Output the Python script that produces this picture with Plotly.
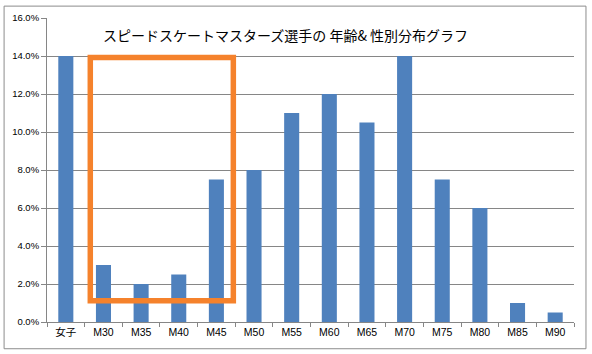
import plotly.graph_objects as go

categories = ["女子", "M30", "M35", "M40", "M45", "M50", "M55", "M60", "M65", "M70", "M75", "M80", "M85", "M90"]
share_pct = [14.0, 3.0, 2.0, 2.5, 7.5, 8.0, 11.0, 12.0, 10.5, 14.0, 7.5, 6.0, 1.0, 0.5]
y_ticks = [0, 2, 4, 6, 8, 10, 12, 14, 16]
title_text = "スピードスケートマスターズ選手の 年齢& 性別分布グラフ"

W, H = 592, 354
ml, mr, mt, mb = 46, 18, 15, 32
pw, ph = W - ml - mr, H - mt - mb

def px_x(p):
    return (p - ml) / pw

def px_y(p):
    return (H - mb - p) / ph

fig = go.Figure(go.Bar(x=categories, y=share_pct, marker=dict(color="#4F81BD", line=dict(width=0))))

fig.update_layout(
    width=W, height=H,
    margin=dict(l=ml, r=mr, t=mt, b=mb),
    paper_bgcolor="white", plot_bgcolor="white",
    bargap=0.6, showlegend=False,
    font=dict(family="Liberation Sans, Noto Sans CJK JP", color="#000000"),
    xaxis=dict(type="category", showgrid=False, showline=True, linecolor="#868686", linewidth=1,
               ticks="outside", tickson="boundaries", ticklen=4, tickcolor="#868686",
               tickfont=dict(size=10.5, family="Liberation Sans, Noto Sans CJK JP"), fixedrange=True),
    yaxis=dict(range=[0, 16], tickvals=y_ticks, ticktext=[f"{v:.1f}%" for v in y_ticks],
               showgrid=True, gridcolor="#868686", gridwidth=1, showline=True, linecolor="#868686",
               linewidth=1, ticks="outside", ticklen=5, tickcolor="#868686", zeroline=False,
               tickfont=dict(size=9.5), fixedrange=True),
    annotations=[dict(text=title_text, xref="paper", yref="paper", x=px_x(284.5), y=px_y(32),
                      xanchor="center", yanchor="middle", showarrow=False,
                      font=dict(size=14, family="Noto Sans CJK JP", color="#000000"))],
    shapes=[
        dict(type="rect", xref="paper", yref="paper", x0=px_x(3), x1=px_x(586), y0=px_y(349), y1=px_y(3),
             line=dict(color="#8c8c8c", width=1), layer="below"),
        dict(type="rect", xref="x", yref="y", x0=0.65, x1=4.45, y0=1.12, y1=13.92,
             line=dict(color="#F5822C", width=5.5)),
    ],
)

fig.write_html("out.html")
